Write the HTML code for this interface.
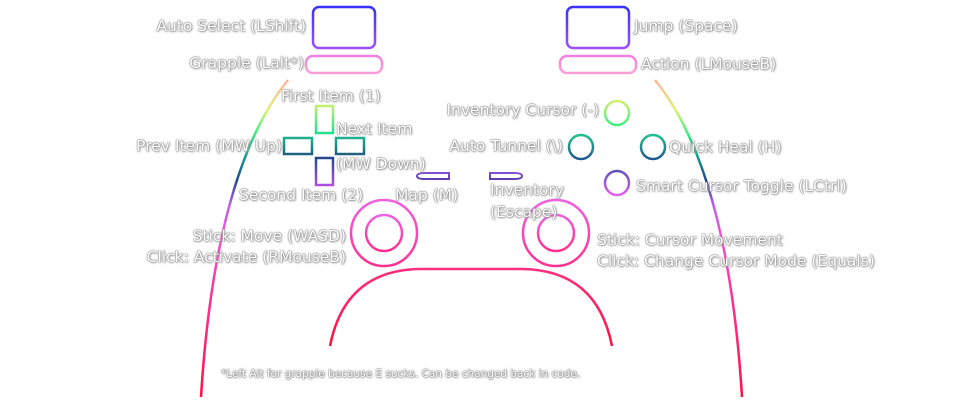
<!DOCTYPE html>
<html><head><meta charset="utf-8"><style>
html,body{margin:0;padding:0;background:#fff;}
#c{position:relative;width:960px;height:405px;overflow:hidden;}
svg{position:absolute;left:0;top:0;}
.t{position:absolute;font-family:"DejaVu Sans","Liberation Sans",sans-serif;font-size:15.5px;color:#fff;white-space:nowrap;line-height:20px;
text-shadow:0 0 1px #777,0 0 1px #777,0 0 2px #999,1px 1px 2px #aaa;}
.r{text-align:right;}
.s{font-size:10.5px;line-height:12px;}
</style></head><body><div id="c">
<svg width="960" height="405" viewBox="0 0 960 405">
<defs>
<linearGradient id="body" gradientUnits="userSpaceOnUse" x1="0" y1="78" x2="0" y2="398">
<stop offset="0" stop-color="#ffb0a0"/>
<stop offset="0.1" stop-color="#e0f070"/>
<stop offset="0.17" stop-color="#40f080"/>
<stop offset="0.24" stop-color="#18a090"/>
<stop offset="0.32" stop-color="#204a90"/>
<stop offset="0.4" stop-color="#c060f0"/>
<stop offset="0.5" stop-color="#f050d0"/>
<stop offset="0.7" stop-color="#ff3090"/>
<stop offset="1" stop-color="#ff1040"/>
</linearGradient>
<linearGradient id="top" x1="0" y1="0" x2="0" y2="1"><stop offset="0" stop-color="#3a30ff"/><stop offset="1" stop-color="#9a50ff"/></linearGradient>
<linearGradient id="pill" x1="0" y1="0" x2="0" y2="1"><stop offset="0" stop-color="#f080e0"/><stop offset="1" stop-color="#ffa0d8"/></linearGradient>
<linearGradient id="up" x1="0" y1="0" x2="0" y2="1"><stop offset="0" stop-color="#c0f070"/><stop offset="1" stop-color="#20e090"/></linearGradient>
<linearGradient id="side" x1="0" y1="0" x2="0" y2="1"><stop offset="0" stop-color="#20b090"/><stop offset="1" stop-color="#206080"/></linearGradient>
<linearGradient id="down" x1="0" y1="0" x2="0" y2="1"><stop offset="0" stop-color="#204a90"/><stop offset="1" stop-color="#b050e0"/></linearGradient>
<linearGradient id="cg" x1="0" y1="0" x2="0" y2="1"><stop offset="0" stop-color="#d0f070"/><stop offset="1" stop-color="#40f080"/></linearGradient>
<linearGradient id="ct" x1="0" y1="0" x2="0" y2="1"><stop offset="0" stop-color="#20c090"/><stop offset="1" stop-color="#205a90"/></linearGradient>
<linearGradient id="cp" x1="0" y1="0" x2="0" y2="1"><stop offset="0" stop-color="#6050c0"/><stop offset="1" stop-color="#e060f0"/></linearGradient>
<linearGradient id="mp" x1="0" y1="0" x2="0" y2="1"><stop offset="0" stop-color="#8050d0"/><stop offset="1" stop-color="#6040b0"/></linearGradient>
<linearGradient id="st" x1="0" y1="0" x2="0" y2="1"><stop offset="0" stop-color="#f060e0"/><stop offset="1" stop-color="#ff3090"/></linearGradient>
<linearGradient id="mo" x1="0" y1="0" x2="0" y2="1"><stop offset="0" stop-color="#ff3080"/><stop offset="1" stop-color="#ff1040"/></linearGradient>
</defs>
<g fill="none" stroke-width="2.5">
<path d="M288,80 Q215,170 201,397" stroke="url(#body)"/>
<path d="M655,80 Q728,170 742,397" stroke="url(#body)"/>
<rect x="313" y="7" width="62" height="41" rx="6" stroke="url(#top)"/>
<rect x="567" y="7" width="62" height="41" rx="6" stroke="url(#top)"/>
<rect x="306" y="56" width="76" height="17" rx="7" stroke="url(#pill)"/>
<rect x="560" y="56" width="76" height="17" rx="7" stroke="url(#pill)"/>
<rect x="316" y="106" width="17" height="27" stroke="url(#up)"/>
<rect x="284" y="138" width="28" height="16" stroke="url(#side)"/>
<rect x="336" y="138" width="28" height="16" stroke="url(#side)"/>
<rect x="316" y="158" width="17" height="27" stroke="url(#down)"/>
<path d="M449,173 L449,179 L425,179 Q417,179 417,176 Q417,173 425,173 Z" stroke="url(#mp)" stroke-width="2"/>
<path d="M490,173 L514,173 Q522,173 522,176 Q522,179 514,179 L490,179 Z" stroke="url(#mp)" stroke-width="2"/>
<circle cx="617" cy="113" r="12" stroke="url(#cg)"/>
<circle cx="581" cy="147" r="12" stroke="url(#ct)"/>
<circle cx="653" cy="147" r="12" stroke="url(#ct)"/>
<circle cx="617" cy="183" r="12" stroke="url(#cp)"/>
<circle cx="384" cy="233" r="33" stroke="url(#st)"/>
<circle cx="384" cy="233" r="18" stroke="url(#st)"/>
<circle cx="556" cy="233" r="33" stroke="url(#st)"/>
<circle cx="556" cy="233" r="18" stroke="url(#st)"/>
<path d="M330,346 Q345,270 420,269 L522,269 Q597,270 612,346" stroke="url(#mo)"/>
</g>
</svg>
<div class="t r" style="right:654px;top:16px">Auto Select (LShift)</div>
<div class="t r" style="right:656px;top:53px">Grapple (Lalt*)</div>
<div class="t" style="left:634px;top:16px">Jump (Space)</div>
<div class="t" style="left:641px;top:54px">Action (LMouseB)</div>
<div class="t" style="left:281px;top:86px">First Item (1)</div>
<div class="t" style="left:336px;top:119px">Next Item</div>
<div class="t" style="left:336px;top:154px">(MW Down)</div>
<div class="t r" style="right:678px;top:136px">Prev Item (MW Up)</div>
<div class="t" style="left:239px;top:185px">Second Item (2)</div>
<div class="t" style="left:395px;top:185px">Map (M)</div>
<div class="t" style="left:490px;top:180px">Inventory</div>
<div class="t" style="left:490px;top:202px">(Escape)</div>
<div class="t r" style="right:361px;top:100px">Inventory Cursor (-)</div>
<div class="t r" style="right:397px;top:136px">Auto Tunnel (\)</div>
<div class="t" style="left:669px;top:137px">Quick Heal (H)</div>
<div class="t" style="left:636px;top:176px">Smart Cursor Toggle (LCtrl)</div>
<div class="t r" style="right:614px;top:226px">Stick: Move (WASD)</div>
<div class="t r" style="right:614px;top:247px">Click: Activate (RMouseB)</div>
<div class="t" style="left:597px;top:230px">Stick: Cursor Movement</div>
<div class="t" style="left:597px;top:251px">Click: Change Cursor Mode (Equals)</div>
<div class="t s" style="left:221px;top:368px">*Left Alt for grapple because E sucks. Can be changed back in code.</div>
</div></body></html>
